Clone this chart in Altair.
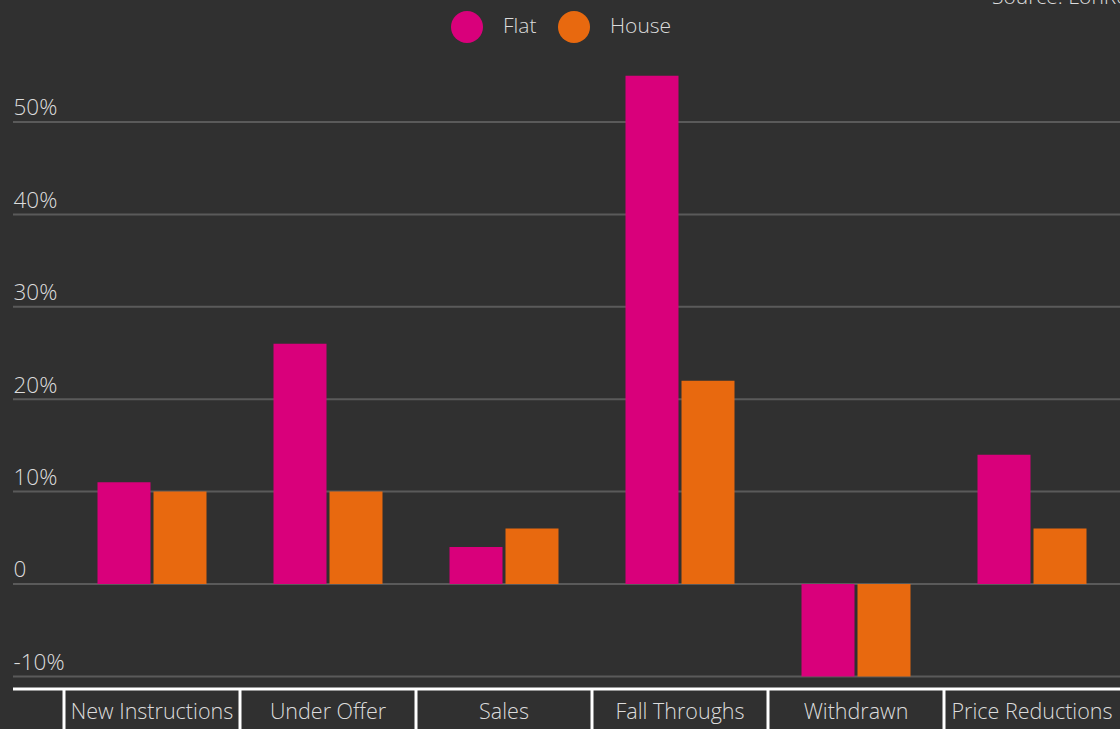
import altair as alt
import pandas as pd

categories = ["New Instructions", "Under Offer", "Sales", "Fall Throughs", "Withdrawn", "Price Reductions"]
flat_values = [0.11, 0.26, 0.04, 0.55, -0.10, 0.14]
house_values = [0.10, 0.10, 0.06, 0.22, -0.10, 0.06]
series = ["Flat", "House"]
series_colors = ["#d9007b", "#e8690f"]
y_ticks = [-0.1, 0, 0.1, 0.2, 0.3, 0.4, 0.5]
source_note = "Source: LonRes"

rows = []
for c, f, h in zip(categories, flat_values, house_values):
    rows.append({"category": c, "type": "Flat", "value": f})
    rows.append({"category": c, "type": "House", "value": h})
df = pd.DataFrame(rows)
cat_df = pd.DataFrame({"category": categories})
tick_df = pd.DataFrame({"value": y_ticks})

W, H = 1107, 644
FONT = "Open Sans"
TEXT = "#dcdcdc"
BG = "#303030"

x_scale = alt.Scale(domain=categories, range=[51, 1107], paddingInner=0, paddingOuter=0)
y_scale = alt.Scale(domain=[-0.11364, 0.58333], nice=False)

grid = alt.Chart(tick_df).mark_rule(color="#5a5a5a", strokeWidth=2).encode(
    y=alt.Y("value:Q", scale=y_scale,
            axis=alt.Axis(values=y_ticks, title=None, ticks=False, tickSize=0, domain=False,
                          grid=False, labelPadding=0, labelAlign="left",
                          labelBaseline="alphabetic", labelOffset=-7,
                          labelExpr="datum.value == 0 ? '0' : round(datum.value*100) + '%'",
                          labelFontSize=22.5, labelColor=TEXT, labelFont=FONT,
                          labelFontWeight=300)),
    x=alt.value(0),
    x2=alt.value(W),
)

bars = alt.Chart(df).mark_bar().encode(
    x=alt.X("category:N", scale=x_scale, sort=categories,
            axis=alt.Axis(title=None, orient="bottom", ticks=False, tickSize=0, domain=False,
                          labelPadding=23, labelBaseline="middle", labelFontSize=21.5,
                          labelColor=TEXT, labelFont=FONT, labelFontWeight=300,
                          labelAngle=0, grid=False)),
    xOffset=alt.XOffset("type:N", sort=series,
                        scale=alt.Scale(paddingInner=0.0536, paddingOuter=0.598)),
    y=alt.Y("value:Q", scale=y_scale),
    color=alt.Color("type:N", sort=series,
                    scale=alt.Scale(domain=series, range=series_colors),
                    legend=alt.Legend(title=None, orient="none", legendX=438, legendY=-34,
                                      direction="horizontal", symbolType="circle",
                                      symbolSize=1024, symbolStrokeWidth=0, symbolOpacity=1,
                                      labelFontSize=21, labelColor=TEXT, labelFont=FONT,
                                      labelFontWeight=300, labelOffset=20,
                                      columnPadding=21, padding=0)),
)

seps = alt.Chart(cat_df).mark_rule(color="white", strokeWidth=3).encode(
    x=alt.X("category:N", scale=x_scale, bandPosition=0),
    y=alt.value(H),
    y2=alt.value(H + 60),
)

hline = alt.Chart(cat_df.head(1)).mark_rule(color="white", strokeWidth=3).encode(
    x=alt.value(0), x2=alt.value(W), y=alt.value(H)
)

src = alt.Chart(pd.DataFrame({"t": [source_note]})).mark_text(
    align="left", baseline="alphabetic", fontSize=21, color=TEXT, font=FONT, fontWeight=300
).encode(text="t:N", x=alt.value(979), y=alt.value(-41))

chart = alt.layer(grid, bars, seps, hline, src).properties(
    width=W, height=H, background=BG,
    padding={"left": 13, "top": 45, "right": 0, "bottom": 40},
    autosize=alt.AutoSizeParams(type="none"),
).configure_view(stroke=None)

chart.save("out.html", embed_options={"renderer": "svg", "actions": False})
